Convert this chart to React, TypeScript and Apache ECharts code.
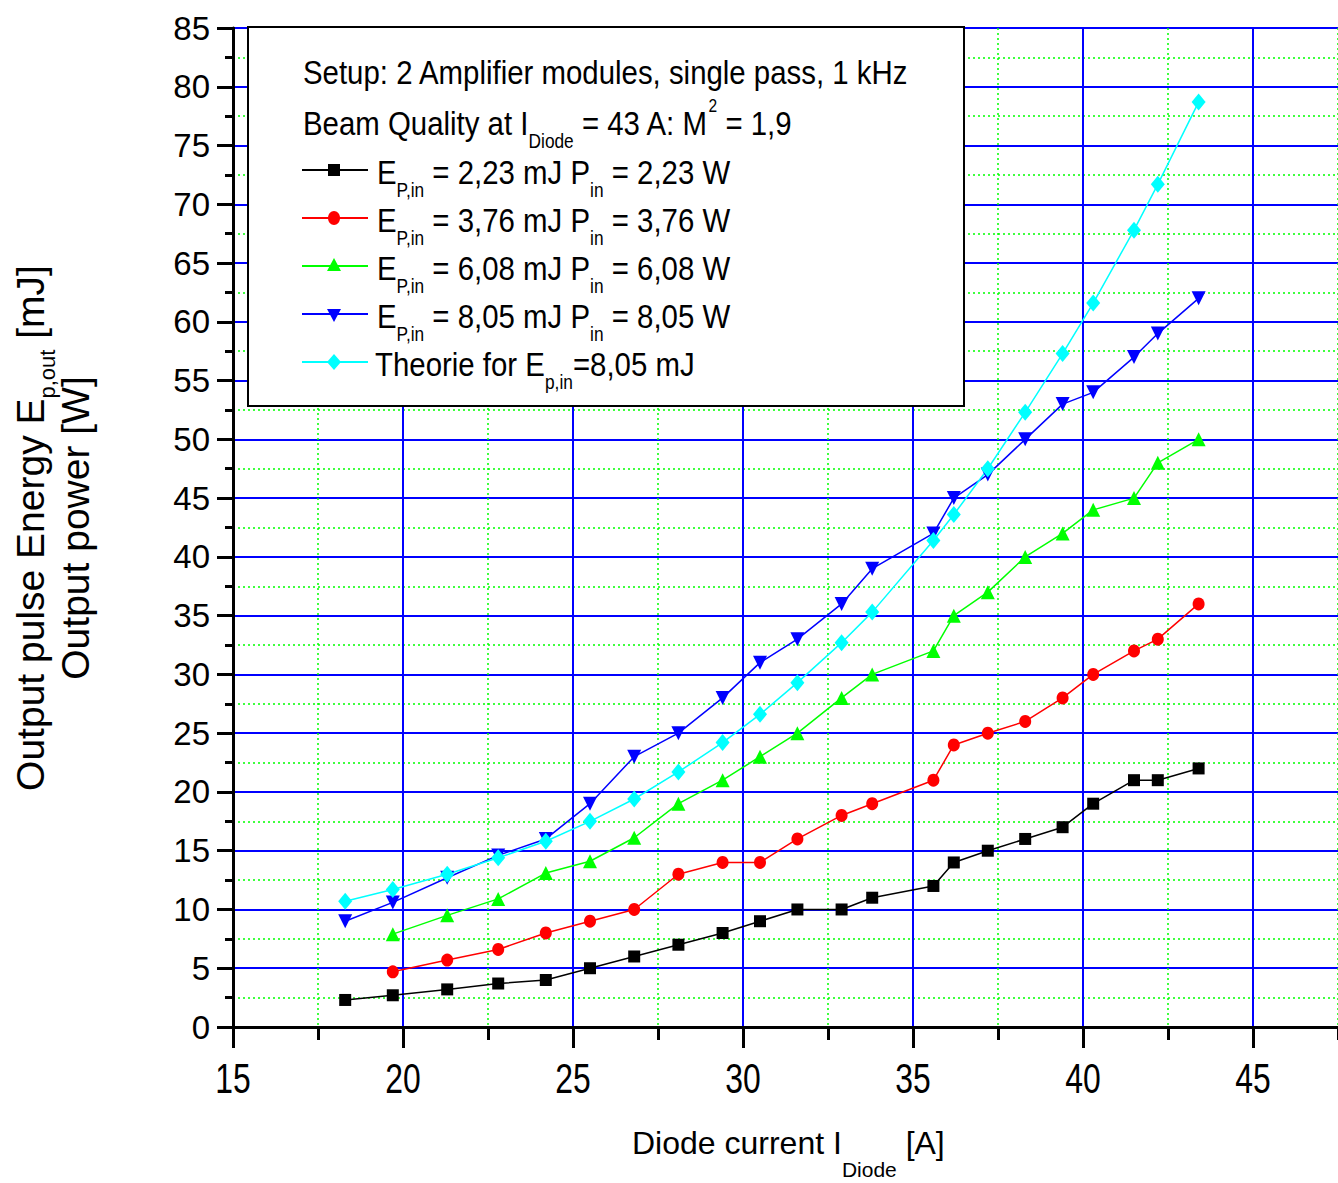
import React, { useEffect, useRef } from 'react';
import * as echarts from 'echarts';

// ---------- data ----------
const diodeCurrent = [18.3, 19.7, 21.3, 22.8, 24.2, 25.5, 26.8, 28.1, 29.4, 30.5, 31.6, 32.9, 33.8, 35.6, 36.2, 37.2, 38.3, 39.4, 40.3, 41.5, 42.2, 43.4];
const out223 = [2.3, 2.7, 3.2, 3.7, 4.0, 5.0, 6.0, 7.0, 8.0, 9.0, 10.0, 10.0, 11.0, 12.0, 14.0, 15.0, 16.0, 17.0, 19.0, 21.0, 21.0, 22.0];
const out376 = [4.7, 5.7, 6.6, 8, 9, 10, 13, 14, 14, 16, 18, 19, 21, 24, 25, 26, 28, 30, 32, 33, 36];
const out608 = [7.9, 9.5, 10.9, 13.1, 14.1, 16.1, 19, 21, 23, 25, 28, 30, 32, 35, 37, 40, 42, 44, 45, 48, 50];
const out805 = [9, 10.6, 12.7, 14.6, 16, 19, 23, 25, 28, 31, 33, 36, 39, 42, 45, 47, 50, 53, 54, 57, 59, 62];
const theory805 = [10.7, 11.7, 13, 14.4, 15.8, 17.5, 19.4, 21.7, 24.2, 26.6, 29.3, 32.7, 35.3, 41.4, 43.6, 47.5, 52.3, 57.3, 61.6, 67.8, 71.7, 78.7];
const xTickLabels = [15, 20, 25, 30, 35, 40, 45];
const inputLabels = ['2,23', '3,76', '6,08', '8,05'];
const seriesColors = ['#000000', '#ff0000', '#00ff00', '#0000ff', '#00ffff'];

const SANS = '"Liberation Sans", Arial, Helvetica, sans-serif';

function pairs(xs: number[], ys: number[], offset: number) {
  return ys.map((y, i) => [xs[i + offset], y]);
}

function richSet(fs: number, sub: number, subOff: number) {
  return {
    m: { fontSize: fs, fontFamily: SANS, fill: '#000', lineHeight: fs },
    s: { fontSize: sub, fontFamily: SANS, fill: '#000', lineHeight: fs, padding: [subOff * 2, 0, 0, 0] },
    p: { fontSize: sub - 2, fontFamily: SANS, fill: '#000', lineHeight: fs, padding: [0, 0, 34, 0] },
  };
}

export default function App() {
  const ref = useRef<HTMLDivElement>(null);
  useEffect(() => {
    const chart = echarts.init(ref.current!, null, { renderer: 'svg' });

    const mk = (name: string, data: number[][], color: string, symbol: string, size: any, rotate = 0) => ({
      name, type: 'line', data, symbol, symbolSize: size, symbolRotate: rotate,
      itemStyle: { color }, lineStyle: { color, width: 1.5 }, showSymbol: true, clip: false,
    });

    chart.setOption({
      animation: false,
      backgroundColor: '#ffffff',
      grid: { left: 233, top: 28, width: 1190, height: 999, containLabel: false },
      xAxis: {
        type: 'value', min: 15, max: 50, interval: 5,
        axisLine: { show: true, onZero: false, lineStyle: { color: '#000', width: 3 } },
        axisTick: { show: true, inside: false, length: 21, lineStyle: { color: '#000', width: 3 } },
        minorTick: { show: true, splitNumber: 2, length: 13, lineStyle: { color: '#000', width: 3 } },
        axisLabel: { show: false },
        splitLine: { show: true, lineStyle: { color: '#0000ff', width: 2 } },
        minorSplitLine: { show: true, lineStyle: { color: '#00ff00', width: 1.5, type: [2, 3] } },
      },
      yAxis: {
        type: 'value', min: 0, max: 85, interval: 5,
        axisLine: { show: true, onZero: false, lineStyle: { color: '#000', width: 3 } },
        axisTick: { show: true, inside: false, length: 16, lineStyle: { color: '#000', width: 3 } },
        minorTick: { show: true, splitNumber: 2, length: 8, lineStyle: { color: '#000', width: 3 } },
        axisLabel: { show: true, margin: 23, fontSize: 33, fontFamily: SANS, color: '#000' },
        splitLine: { show: true, lineStyle: { color: '#0000ff', width: 2 } },
        minorSplitLine: { show: true, lineStyle: { color: '#00ff00', width: 1.5, type: [2, 3] } },
      },
      series: [
        mk('E_P,in = 2,23 mJ', pairs(diodeCurrent, out223, 0), seriesColors[0], 'rect', 12),
        mk('E_P,in = 3,76 mJ', pairs(diodeCurrent, out376, 1), seriesColors[1], 'circle', [12, 13]),
        mk('E_P,in = 6,08 mJ', pairs(diodeCurrent, out608, 1), seriesColors[2], 'triangle', 14),
        mk('E_P,in = 8,05 mJ', pairs(diodeCurrent, out805, 0), seriesColors[3], 'triangle', 14, 180),
        mk('Theorie for E_p,in = 8,05 mJ', pairs(diodeCurrent, theory805, 0), seriesColors[4], 'diamond', [14, 17]),
      ],
    });

    const legendRich = richSet(34, 20, 18);
    const LX = 0.865;
    const rowY = [170, 218, 266, 314, 362];
    const iconX = 334;
    const graphics: any[] = [];
    // x tick labels placed through the axis scale (condensed glyphs as in the reference)
    xTickLabels.forEach((v) => {
      const p = chart.convertToPixel({ gridIndex: 0 }, [v, 0]) as number[];
      graphics.push({ type: 'text', z: 101, x: p[0], y: p[1] + 51, scaleX: 0.76, style: { text: String(v), fontSize: 42, fontFamily: SANS, fill: '#000', align: 'center', verticalAlign: 'middle' } });
    });
    graphics.push({ type: 'rect', z: 100, shape: { x: 248, y: 27, width: 716, height: 379 }, style: { fill: '#fff', stroke: '#000', lineWidth: 2 } });
    graphics.push({ type: 'text', z: 101, x: 303, y: 72, scaleX: LX, style: { text: '{m|Setup: 2 Amplifier modules, single pass, 1 kHz}', rich: legendRich, align: 'left', verticalAlign: 'middle' } });
    graphics.push({ type: 'text', z: 101, x: 303, y: 123, scaleX: LX, style: { text: '{m|Beam Quality at I}{s|Diode}{m| = 43 A: M}{p|2}{m| = 1,9}', rich: legendRich, align: 'left', verticalAlign: 'middle' } });
    rowY.forEach((y, i) => {
      graphics.push({ type: 'line', z: 101, shape: { x1: 302, y1: y, x2: 368, y2: y }, style: { stroke: seriesColors[i], lineWidth: 2 } });
      const label = i < 4
        ? `{m|E}{s|P,in}{m| = ${inputLabels[i]} mJ P}{s|in}{m| = ${inputLabels[i]} W}`
        : `{m|Theorie for E}{s|p,in}{m|=${inputLabels[3]} mJ}`;
      graphics.push({ type: 'text', z: 101, x: i < 4 ? 377 : 375, y: y + 2, scaleX: LX, style: { text: label, rich: legendRich, align: 'left', verticalAlign: 'middle' } });
    });
    const c = seriesColors;
    graphics.push({ type: 'rect', z: 102, shape: { x: iconX - 6, y: rowY[0] - 6, width: 12, height: 12 }, style: { fill: c[0] } });
    graphics.push({ type: 'ellipse', z: 102, shape: { cx: iconX, cy: rowY[1], rx: 6, ry: 7 }, style: { fill: c[1] } });
    graphics.push({ type: 'polygon', z: 102, shape: { points: [[iconX, rowY[2] - 8], [iconX + 7, rowY[2] + 5], [iconX - 7, rowY[2] + 5]] }, style: { fill: c[2] } });
    graphics.push({ type: 'polygon', z: 102, shape: { points: [[iconX - 7, rowY[3] - 5], [iconX + 7, rowY[3] - 5], [iconX, rowY[3] + 8]] }, style: { fill: c[3] } });
    graphics.push({ type: 'polygon', z: 102, shape: { points: [[iconX, rowY[4] - 8], [iconX + 7, rowY[4]], [iconX, rowY[4] + 8], [iconX - 7, rowY[4]]] }, style: { fill: c[4] } });

    // axis titles
    const yRich = richSet(39, 22, 17);
    graphics.push({ type: 'text', z: 101, x: 30, y: 528, rotation: Math.PI / 2, style: { text: '{m|Output pulse Energy E}{s|p,out}{m| [mJ]}', rich: yRich, align: 'center', verticalAlign: 'middle' } });
    graphics.push({ type: 'text', z: 101, x: 75, y: 528, rotation: Math.PI / 2, style: { text: '{m|Output power [W]}', rich: yRich, align: 'center', verticalAlign: 'middle' } });
    const xRich = richSet(32, 21, 26);
    graphics.push({ type: 'text', z: 101, x: 632, y: 1143, style: { text: '{m|Diode current I}{s|Diode}{m| [A]}', rich: xRich, align: 'left', verticalAlign: 'middle' } });

    chart.setOption({ graphic: { elements: graphics } });
    return () => chart.dispose();
  }, []);
  return (
    <div style={{ position: 'fixed', left: 0, top: 0, width: 1338, height: 1183, overflow: 'hidden', background: '#fff' }}>
      <div ref={ref} style={{ position: 'absolute', left: 0, top: 0, width: 1440, height: 1183 }} />
    </div>
  );
}
